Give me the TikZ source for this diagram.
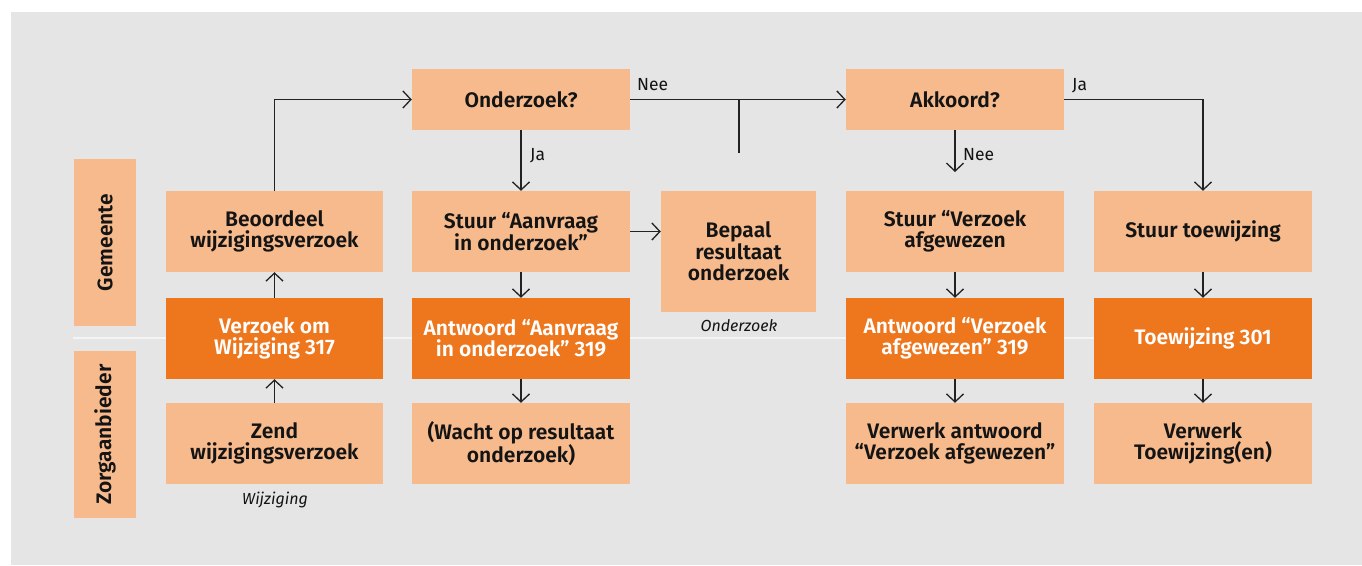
\documentclass[tikz,border=0pt]{standalone}
\usepackage{fontspec}
\setmainfont{Fira Sans}[BoldFont={Fira Sans SemiBold}]
\usetikzlibrary{arrows.meta}
\definecolor{bggray}{RGB}{229,229,229}
\definecolor{lightor}{RGB}{246,186,140}
\definecolor{darkor}{RGB}{238,119,30}
\definecolor{ink}{RGB}{20,20,20}
\definecolor{lineink}{RGB}{34,34,34}
\definecolor{divider}{RGB}{244,244,244}
\tikzset{
  box/.style={fill=lightor, text=ink, inner sep=0pt, align=center,
    font=\fontsize{21}{21.5}\selectfont\bfseries},
  darkbox/.style={box, fill=darkor, text=white},
  lanebox/.style={fill=lightor, text=ink, inner sep=0pt,
    font=\fontsize{21}{21}\selectfont\bfseries},
  conn/.style={draw=lineink, line width=1.3pt, -{Straight Barb[length=8pt,width=17pt,line width=1.3pt]}},
  plainconn/.style={draw=lineink, line width=1.3pt},
  lbl/.style={text=ink, inner sep=0pt, font=\fontsize{17.5}{18}\selectfont},
  caption/.style={text=ink, inner sep=0pt, font=\fontsize{16}{18}\selectfont\itshape}
}
\begin{document}
\begin{tikzpicture}[x=1pt,y=-1pt]
\useasboundingbox (0,0) rectangle (1362,565);
\fill[bggray] (11,12) rectangle (1362,565);
% lane labels
\node[lanebox, minimum width=62pt, minimum height=167pt] (lg) at (105,242.5) {};
\node[lanebox, rotate=90] (lgt) at (105,242.5) {Gemeente};
\node[lanebox, minimum width=62pt, minimum height=167pt] (lz) at (105,434.5) {};
\node[lanebox, rotate=90] (lzt) at (105,434.5) {Zorgaanbieder};
% divider
\coordinate (dl) at (73,338);
\coordinate (dr) at (1312,338);
\draw[divider, line width=2pt] (dl) -- (dr);
% column 1
\node[box, minimum width=217pt, minimum height=81pt] (beo) at (274.5,231.5) {Beoordeel\\wijzigingsverzoek};
\node[darkbox, minimum width=217pt, minimum height=81pt] (vzk) at (274.5,338.5) {Verzoek om\\Wijziging 317};
\node[box, minimum width=217pt, minimum height=81pt] (zend) at (274.5,443.5) {Zend\\wijzigingsverzoek};
\node[caption] (capw) at (275,500) {Wijziging};
% column 2
\node[box, minimum width=218pt, minimum height=61pt] (ond) at (521,99.5) {Onderzoek?};
\node[box, minimum width=218pt, minimum height=81pt] (sta) at (521,231.5) {Stuur “Aanvraag\\in onderzoek”};
\node[darkbox, minimum width=218pt, minimum height=81pt] (ant) at (521,338.5) {Antwoord “Aanvraag\\in onderzoek” 319};
\node[box, minimum width=218pt, minimum height=81pt] (wacht) at (521,443.5) {(Wacht op resultaat\\onderzoek)};
% bepaal
\node[box, minimum width=155pt, minimum height=121pt] (bep) at (738.5,251.5) {Bepaal\\resultaat\\onderzoek};
\node[caption] (capo) at (739,326) {Onderzoek};
% column 3
\node[box, minimum width=218pt, minimum height=61pt] (akk) at (955,99.5) {Akkoord?};
\node[box, minimum width=218pt, minimum height=81pt] (stv) at (955,231.5) {Stuur “Verzoek\\afgewezen};
\node[darkbox, minimum width=218pt, minimum height=81pt] (antv) at (955,338.5) {Antwoord “Verzoek\\afgewezen” 319};
\node[box, minimum width=218pt, minimum height=81pt] (verv) at (955,443.5) {Verwerk antwoord\\“Verzoek afgewezen”};
% column 4
\node[box, minimum width=218pt, minimum height=81pt] (stt) at (1203,231.5) {Stuur toewijzing};
\node[darkbox, minimum width=218pt, minimum height=81pt] (toe) at (1203,338.5) {Toewijzing 301};
\node[box, minimum width=218pt, minimum height=81pt] (vert) at (1203,443.5) {Verwerk\\Toewijzing(en)};
% connectors
\draw[conn] (zend.north) -- (vzk.south);
\draw[conn] (vzk.north) -- (beo.south);
\draw[conn] (beo.north) |- (ond.west);
\draw[conn] (ond.south) -- (sta.north);
\draw[conn] (sta.east) -- (sta.east -| bep.west);
\draw[conn] (sta.south) -- (ant.north);
\draw[conn] (ant.south) -- (wacht.north);
\coordinate (junc) at (739,99.5);
\coordinate (jend) at (739,153);
\draw[conn] (ond.east) -- (akk.west);
\draw[plainconn] (junc) -- (jend);
\coordinate (nee2end) at (955,172);
\draw[conn] (akk.south) -- (nee2end);
\draw[conn] (stv.south) -- (antv.north);
\draw[conn] (antv.south) -- (verv.north);
\draw[conn] (akk.east) -| (stt.north);
\draw[conn] (stt.south) -- (toe.north);
\draw[conn] (toe.south) -- (vert.north);
% labels
\node[lbl, anchor=base west] (nee1) at (637,90) {Nee};
\node[lbl, anchor=base west] (ja1) at (530,160) {Ja};
\node[lbl, anchor=base west] (nee2) at (963,160) {Nee};
\node[lbl, anchor=base west] (ja2) at (1072,90) {Ja};
\end{tikzpicture}
\end{document}
